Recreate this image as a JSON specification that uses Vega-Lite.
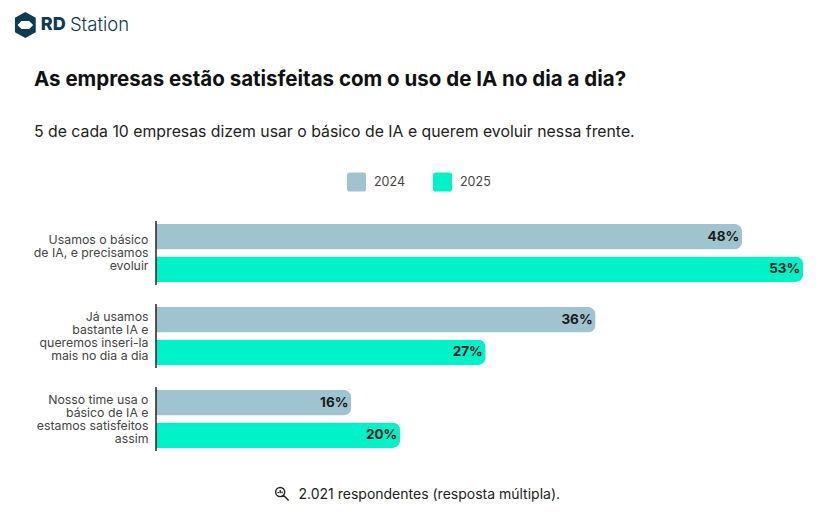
{
  "$schema": "https://vega.github.io/schema/vega-lite/v6.json",
  "description": "As empresas estão satisfeitas com o uso de IA no dia a dia?",
  "background": "white",
  "autosize": {"type": "none"},
  "padding": {"left": 156, "top": 211.5, "right": 0, "bottom": 54.5},
  "width": 682,
  "height": 249,
  "view": {"stroke": null},
  "title": {
    "text": "As empresas estão satisfeitas com o uso de IA no dia a dia?",
    "subtitle": "5 de cada 10 empresas dizem usar o básico de IA e querem evoluir nessa frente.",
    "anchor": "start",
    "frame": "group",
    "dx": -122,
    "offset": -128,
    "font": "Inter",
    "fontSize": 20.5,
    "fontWeight": 700,
    "color": "#111111",
    "subtitleFont": "Inter",
    "subtitleFontSize": 15.8,
    "subtitleFontWeight": 400,
    "subtitleColor": "#222222",
    "subtitlePadding": 35
  },
  "data": {
    "values": [
      {"resposta": "Usamos o básico|de IA, e precisamos|evoluir", "ano": "2024", "pct": 0.48},
      {"resposta": "Usamos o básico|de IA, e precisamos|evoluir", "ano": "2025", "pct": 0.53},
      {"resposta": "Já usamos|bastante IA e|queremos inseri-la|mais no dia a dia", "ano": "2024", "pct": 0.36},
      {"resposta": "Já usamos|bastante IA e|queremos inseri-la|mais no dia a dia", "ano": "2025", "pct": 0.27},
      {"resposta": "Nosso time usa o|básico de IA e|estamos satisfeitos|assim", "ano": "2024", "pct": 0.16},
      {"resposta": "Nosso time usa o|básico de IA e|estamos satisfeitos|assim", "ano": "2025", "pct": 0.20}
    ]
  },
  "resolve": {"scale": {"y": "independent"}},
  "layer": [
    {
      "encoding": {
        "y": {
          "field": "resposta",
          "type": "nominal",
          "sort": null,
          "scale": {"paddingInner": 0, "paddingOuter": 0},
          "axis": {
            "title": null,
            "domain": false,
            "ticks": false,
            "labelPadding": 8,
            "labelFont": "Inter",
            "labelFontSize": 12.3,
            "labelColor": "#444444",
            "labelLineHeight": 13,
            "labelLimit": 150,
            "labelOffset": {"condition": {"test": "indexof(datum.value, 'Usamos') == 0", "value": -13}, "value": -19},
            "labelExpr": "split(datum.label, '|')"
          }
        },
        "yOffset": {
          "field": "ano",
          "type": "nominal",
          "scale": {"paddingInner": 0.22, "paddingOuter": 0.38}
        },
        "x": {
          "field": "pct",
          "type": "quantitative",
          "scale": {"domain": [0, 0.5585], "nice": false},
          "axis": {
            "labels": false,
            "ticks": false,
            "domain": false,
            "grid": false,
            "title": "2.021 respondentes (resposta múltipla).",
            "titleFont": "Inter",
            "titleFontSize": 14,
            "titleFontWeight": 400,
            "titleColor": "#222222",
            "titleAlign": "left",
            "titleBaseline": "middle",
            "titleX": 142,
            "titleY": 33.5
          }
        }
      },
      "layer": [
        {
          "mark": {"type": "bar", "cornerRadiusEnd": 8},
          "encoding": {
            "color": {
              "field": "ano",
              "type": "nominal",
              "scale": {"domain": ["2024", "2025"], "range": ["#a0c4cf", "#00f2c8"]},
              "legend": {
                "title": null,
                "orient": "none",
                "direction": "horizontal",
                "legendX": 191,
                "legendY": -39,
                "symbolType": "M-0.75,-1 H0.75 A0.25,0.25 0 0 1 1,-0.75 V0.75 A0.25,0.25 0 0 1 0.75,1 H-0.75 A0.25,0.25 0 0 1 -1,0.75 V-0.75 A0.25,0.25 0 0 1 -0.75,-1 Z",
                "symbolSize": 361,
                "symbolStrokeWidth": 0,
                "symbolOpacity": 1,
                "labelFont": "Inter",
                "labelFontSize": 12.5,
                "labelColor": "#444444",
                "labelOffset": 8,
                "columnPadding": 27
              }
            }
          }
        },
        {
          "mark": {"type": "text", "align": "right", "baseline": "middle", "dx": -3, "font": "Inter", "fontSize": 13.5, "fontWeight": 700, "color": "#1a1a1a"},
          "encoding": {"text": {"field": "pct", "type": "quantitative", "format": ".0%"}}
        },
        {
          "mark": {"type": "tick", "orient": "vertical", "size": 64, "thickness": 1, "color": "#222222", "opacity": 1},
          "encoding": {"x": {"datum": 0, "type": "quantitative"}, "yOffset": null}
        }
      ]
    },
    {
      "data": {"values": [{"marca": "logo"}]},
      "mark": {"type": "point", "shape": "M0,-1 L0.8,-0.55 L0.8,0.55 L0,1 L-0.8,0.55 L-0.8,-0.55 Z M-0.6,0 L-0.3,0.3 L0.3,0.3 L0.6,0 L0.3,-0.3 L-0.3,-0.3 Z", "size": 676, "filled": true, "fill": "#0d3b4f", "opacity": 1, "strokeWidth": 0},
      "encoding": {
        "x": {"datum": -0.107, "type": "quantitative"},
        "y": {"datum": -186.5, "type": "quantitative", "scale": {"domain": [0, 249], "reverse": true}, "axis": null}
      }
    },
    {
      "data": {"values": [{"marca": "RD"}]},
      "mark": {"type": "text", "align": "left", "baseline": "middle", "font": "Inter", "fontSize": 18, "fontWeight": 800, "color": "#0d3b4f"},
      "encoding": {
        "x": {"datum": -0.0943, "type": "quantitative"},
        "y": {"datum": -186.5, "type": "quantitative", "scale": {"domain": [0, 249], "reverse": true}, "axis": null},
        "text": {"field": "marca"}
      }
    },
    {
      "data": {"values": [{"marca": "Station"}]},
      "mark": {"type": "text", "align": "left", "baseline": "middle", "font": "Inter", "fontSize": 18.5, "fontWeight": 300, "color": "#0d3b4f"},
      "encoding": {
        "x": {"datum": -0.0705, "type": "quantitative"},
        "y": {"datum": -186.5, "type": "quantitative", "scale": {"domain": [0, 249], "reverse": true}, "axis": null},
        "text": {"field": "marca"}
      }
    },
    {
      "data": {"values": [{"marca": "lupa"}]},
      "mark": {"type": "point", "shape": "M-0.3,-1 A0.7,0.7 0 1,1 -0.3,0.4 A0.7,0.7 0 1,1 -0.3,-1 Z M0.2,0.2 L1,1 M-0.6,-0.1 V-0.3 M-0.3,-0.1 V-0.6 M0,-0.1 V-0.4", "size": 169, "filled": false, "stroke": "#222222", "strokeWidth": 1.4, "opacity": 1},
      "encoding": {
        "x": {"datum": 0.1033, "type": "quantitative"},
        "y": {"datum": 282.5, "type": "quantitative", "scale": {"domain": [0, 249], "reverse": true}, "axis": null}
      }
    }
  ]
}
